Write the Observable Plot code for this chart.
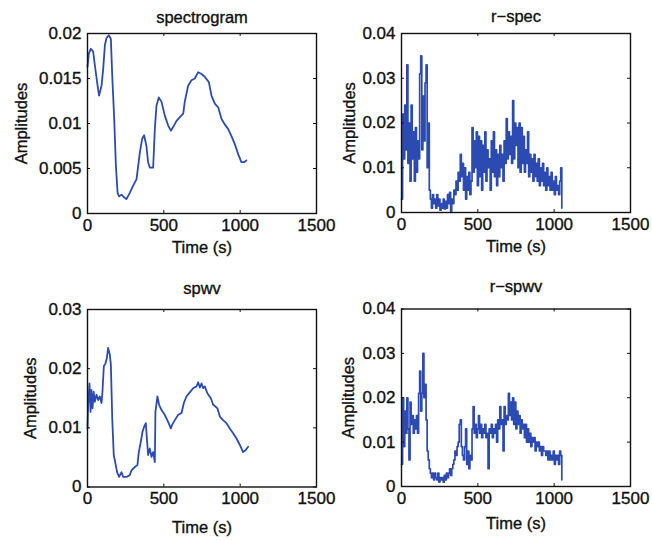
<!DOCTYPE html>
<html><head><meta charset="utf-8">
<script src="https://cdn.jsdelivr.net/npm/d3@7"></script>
<script src="https://cdn.jsdelivr.net/npm/@observablehq/plot@0.6"></script>
<style>
html,body{margin:0;padding:0;background:#fff;}
#chart{position:relative;width:652px;height:540px;overflow:hidden;background:#fff;}
#chart svg{position:absolute;left:0;top:0;}
#chart svg text{stroke:#111;stroke-width:0.35px;}
</style></head><body><div id="chart"></div>
<script>
// ---------- data ----------
const xTicks = [0, 500, 1000, 1500];
const specTicks = [0, 0.005, 0.01, 0.015, 0.02];
const rSpecTicks = [0, 0.01, 0.02, 0.03, 0.04];
const spwvTicks = [0, 0.01, 0.02, 0.03];
const rSpwvTicks = [0, 0.01, 0.02, 0.03, 0.04];
const titles = ["spectrogram", "r\u2212spec", "spwv", "r\u2212spwv"];
const xLabel = "Time (s)";
const yLabel = "Amplitudes";

// [time (s), amplitude]
const spectrogram = [
 [0,0.0163],[9,0.0178],[22,0.0183],[37,0.0180],[48,0.0165],[66,0.0142],[76,0.0131],[92,0.0142],[103,0.0161],[114,0.0187],
 [124,0.0195],[140,0.0198],[153,0.0194],[162,0.0153],[175,0.0105],[186,0.0053],[197,0.0023],[207,0.0019],[223,0.0021],[240,0.0018],
 [255,0.0016],[277,0.0023],[299,0.0031],[321,0.0038],[332,0.0053],[343,0.0068],[358,0.0083],[371,0.0087],[386,0.0075],[397,0.0057],
 [408,0.0051],[430,0.0051],[441,0.0094],[452,0.0120],[467,0.0129],[485,0.0124],[506,0.0109],[528,0.0098],[546,0.0092],[561,0.0096],
 [583,0.0103],[605,0.0107],[627,0.0111],[637,0.0124],[659,0.0142],[681,0.0148],[703,0.0150],[725,0.0157],[747,0.0155],[768,0.0152],
 [795,0.0146],[812,0.0131],[834,0.0122],[856,0.0118],[878,0.0105],[899,0.0099],[921,0.0094],[943,0.0086],[965,0.0077],[987,0.0066],
 [1008,0.0057],[1026,0.0057],[1041,0.0059]
];
const spwv = [
 [0,0.0099],[4,0.0139],[13,0.0175],[20,0.0127],[26,0.0164],[33,0.0133],[41,0.0161],[48,0.0144],[59,0.0156],[70,0.0147],
 [81,0.0153],[92,0.0142],[98,0.0161],[107,0.0204],[118,0.0209],[127,0.0218],[135,0.0235],[146,0.0224],[153,0.0207],[162,0.0116],
 [172,0.0054],[183,0.0040],[194,0.0025],[207,0.0017],[223,0.0025],[234,0.0017],[255,0.0017],[277,0.0020],[288,0.0028],[310,0.0034],
 [327,0.0037],[336,0.0059],[349,0.0076],[360,0.0093],[371,0.0102],[382,0.0108],[389,0.0082],[397,0.0054],[408,0.0065],[419,0.0051],
 [430,0.0059],[441,0.0042],[445,0.0127],[458,0.0153],[469,0.0139],[485,0.0130],[506,0.0122],[528,0.0110],[546,0.0099],[554,0.0105],
 [572,0.0113],[594,0.0122],[616,0.0125],[631,0.0142],[648,0.0153],[670,0.0160],[692,0.0167],[714,0.0170],[725,0.0177],[736,0.0168],
 [747,0.0175],[758,0.0167],[768,0.0170],[786,0.0158],[808,0.0150],[823,0.0139],[838,0.0136],[851,0.0133],[867,0.0119],[888,0.0113],
 [910,0.0108],[932,0.0099],[954,0.0091],[976,0.0082],[998,0.0071],[1019,0.0059],[1035,0.0062],[1052,0.0068]
];
// noisy series sampled every 7 s from t = 0
const rStep = 7;
const rSpec = [
 0.003,0.022,0.012,0.024,0.014,0.033,0.011,0.020,0.007,0.024,
 0.012,0.018,0.007,0.019,0.009,0.016,0.012,0.031,0.035,0.014,
 0.026,0.016,0.029,0.033,0.010,0.020,0.005,0.003,0.001,0.004,
 0.002,0.003,0.001,0.004,0.0015,0.003,0.0005,0.002,0.001,0.003,
 0.0008,0.0025,0.001,0.004,0.002,0.0045,0.0003,0.003,0.002,0.005,
 0.004,0.007,0.005,0.009,0.007,0.013,0.008,0.011,0.005,0.010,
 0.003,0.008,0.005,0.009,0.004,0.007,0.019,0.009,0.016,0.010,
 0.018,0.006,0.017,0.008,0.016,0.005,0.015,0.009,0.018,0.007,
 0.014,0.010,0.012,0.005,0.016,0.009,0.018,0.008,0.014,0.006,
 0.013,0.008,0.015,0.010,0.013,0.007,0.016,0.011,0.021,0.012,
 0.018,0.013,0.017,0.011,0.025,0.012,0.020,0.015,0.019,0.010,
 0.020,0.009,0.019,0.011,0.017,0.009,0.014,0.011,0.018,0.008,
 0.013,0.009,0.012,0.007,0.013,0.008,0.011,0.007,0.012,0.006,
 0.010,0.007,0.011,0.006,0.009,0.005,0.010,0.006,0.008,0.005,
 0.009,0.005,0.007,0.004,0.008,0.005,0.006,0.004,0.007,0.010,
 0.001
];
const rSpwv = [
 0.005,0.020,0.009,0.017,0.012,0.020,0.013,0.006,0.019,0.014,
 0.016,0.012,0.015,0.013,0.016,0.012,0.021,0.026,0.017,0.021,
 0.030,0.020,0.023,0.015,0.008,0.006,0.004,0.003,0.002,0.003,
 0.0015,0.003,0.002,0.0015,0.003,0.001,0.002,0.0015,0.002,0.001,
 0.0025,0.0015,0.003,0.002,0.003,0.004,0.0025,0.004,0.005,0.006,
 0.008,0.007,0.009,0.010,0.014,0.015,0.009,0.007,0.006,0.009,
 0.013,0.005,0.008,0.004,0.007,0.006,0.013,0.018,0.012,0.014,
 0.011,0.013,0.016,0.012,0.014,0.011,0.013,0.012,0.014,0.011,
 0.012,0.004,0.013,0.012,0.014,0.011,0.013,0.012,0.014,0.010,
 0.015,0.013,0.018,0.014,0.015,0.008,0.018,0.014,0.016,0.015,
 0.021,0.016,0.019,0.015,0.020,0.014,0.019,0.013,0.017,0.014,
 0.016,0.012,0.015,0.013,0.014,0.011,0.014,0.010,0.013,0.010,
 0.012,0.009,0.011,0.010,0.011,0.008,0.010,0.009,0.010,0.008,
 0.009,0.007,0.009,0.008,0.008,0.007,0.008,0.006,0.008,0.006,
 0.007,0.006,0.008,0.005,0.007,0.006,0.007,0.005,0.008,0.007,
 0.0015
];

// ---------- layout ----------
const W = 652, H = 540;
const blue = "#2b4bb3";
const ink = "#111";
const font = "'Liberation Sans', Arial, Helvetica, sans-serif";
const fmt = d => String(d);
const pairRows = (arr) => arr.map(([t, v]) => ({t, v}));
const stepRows = (arr) => arr.map((v, i) => ({t: i * rStep, v}));

const panels = [
  {title: titles[0], rows: pairRows(spectrogram), yMax: 0.02, yTicks: specTicks, sw: 1.8, curve: "linear",
   frame: [87, 33, 316, 213], titleBase: 22.5, xlabBase: 252.5, ylabX: 21},
  {title: titles[1], rows: stepRows(rSpec), yMax: 0.04, yTicks: rSpecTicks, sw: 1.7, curve: "step-after",
   frame: [401, 33, 630, 212], titleBase: 21.5, xlabBase: 251.5, ylabX: 349},
  {title: titles[2], rows: pairRows(spwv), yMax: 0.03, yTicks: spwvTicks, sw: 1.8, curve: "linear",
   frame: [87, 309, 316, 486.5], titleBase: 293, xlabBase: 532.5, ylabX: 30},
  {title: titles[3], rows: stepRows(rSpwv), yMax: 0.04, yTicks: rSpwvTicks, sw: 1.7, curve: "step-after",
   frame: [401, 308.5, 630, 486], titleBase: 291.5, xlabBase: 528, ylabX: 348}
];

const chart = document.getElementById("chart");
for (const p of panels) {
  const [x0, y0, x1, y1] = p.frame;
  const iw = x1 - x0, ih = y1 - y0, tl = 3;
  const svg = Plot.plot({
    width: W, height: H,
    marginLeft: x0, marginRight: W - x1, marginTop: y0, marginBottom: H - y1,
    style: {background: "transparent", fontFamily: font, fontSize: "16px", color: ink, overflow: "visible"},
    x: {domain: [0, 1500]},
    y: {domain: [0, p.yMax]},
    marks: [
      Plot.line(p.rows, {x: "t", y: "v", stroke: blue, strokeWidth: p.sw, curve: p.curve}),
      Plot.tickX(xTicks, {x: d => d, insetTop: ih - tl, stroke: ink}),
      Plot.tickX(xTicks, {x: d => d, insetBottom: ih - tl, stroke: ink}),
      Plot.tickY(p.yTicks, {y: d => d, insetRight: iw - tl, stroke: ink}),
      Plot.tickY(p.yTicks, {y: d => d, insetLeft: iw - tl, stroke: ink}),
      Plot.frame({stroke: ink, strokeWidth: 1.4}),
      Plot.axisX({ticks: xTicks, tickFormat: fmt, tickSize: 0, tickPadding: 5, fontSize: 17, label: null}),
      Plot.axisY({ticks: p.yTicks, tickFormat: fmt, tickSize: 0, tickPadding: 6, fontSize: 17, label: null}),
      Plot.text([p.title], {text: d => d, frameAnchor: "top", lineAnchor: "bottom", dy: p.titleBase - y0, fontSize: 16.5, fill: ink}),
      Plot.text([xLabel], {text: d => d, frameAnchor: "bottom", lineAnchor: "bottom", dy: p.xlabBase - y1, fontSize: 16.5, fill: ink}),
      Plot.text([yLabel], {text: d => d, frameAnchor: "left", rotate: -90, lineAnchor: "middle", textAnchor: "middle", dx: p.ylabX - x0, fontSize: 16.5, fill: ink})
    ]
  });
  chart.appendChild(svg);
}
</script></body></html>
